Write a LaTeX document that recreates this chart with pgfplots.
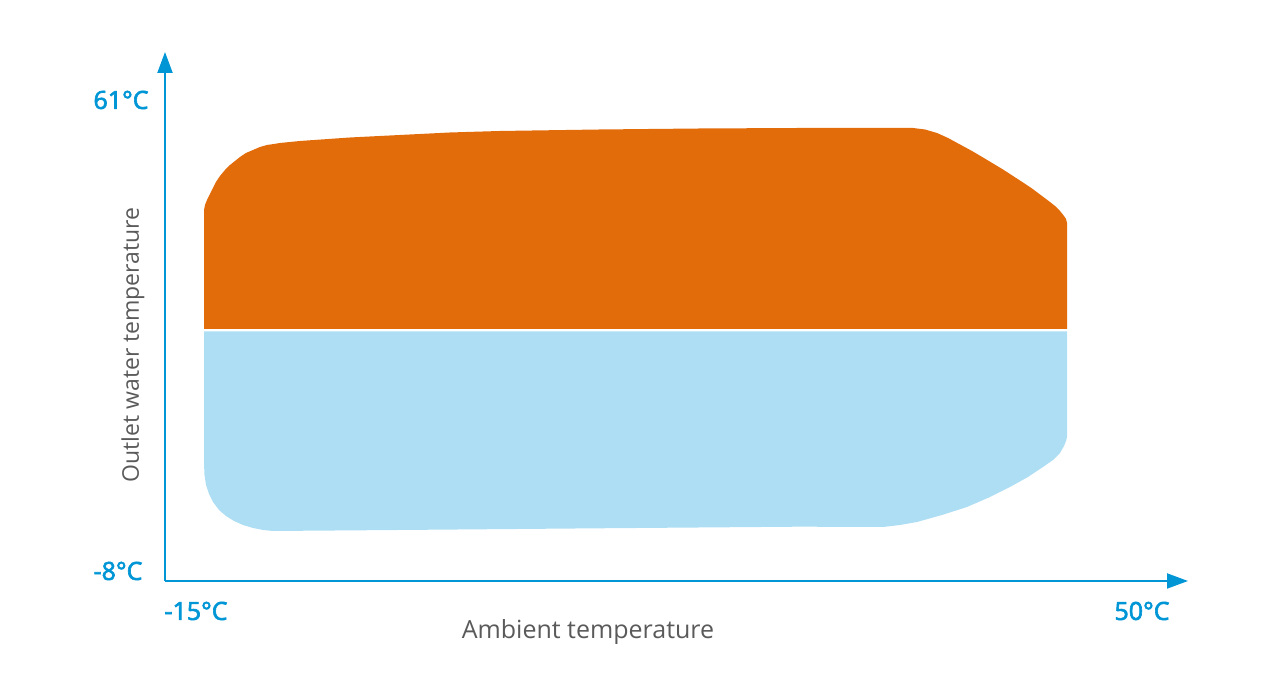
\documentclass[border=0pt]{standalone}
\usepackage{pgfplots}
\pgfplotsset{compat=1.18}
\usepackage{fontspec}
\setmainfont{Open Sans}
\newfontfamily\semib[FakeBold=2.5]{Open Sans}
\usetikzlibrary{arrows.meta}
\definecolor{heat}{HTML}{E26B0A}
\definecolor{cool}{HTML}{AEDEF4}
\definecolor{axblue}{HTML}{0096D6}
\definecolor{txtgray}{HTML}{5A5A5A}
\begin{document}
\begin{tikzpicture}
\useasboundingbox (0,0) rectangle (640pt,344pt);
\begin{axis}[
  at={(0,0)}, anchor=south west,
  width=640pt, height=344pt, scale only axis,
  xmin=0, xmax=1280, ymin=0, ymax=688,
  hide axis, clip=false,
]
% heating region
\addplot[fill=heat, draw=none] coordinates {
(204,359)(204,478)(205,483)(207,488)(210,494)(213,500)(216,506)(220,512)(225,518)(230,523)(235,527)(240,531)(246,535)(253,538)(260,541)(267,543)(274,544)(280,545)(290,546)(300,547)(350,550.5)(400,553)(450,555.5)(500,557)(600,558.5)(700,559.5)(800,560)(900,560)(913,560)(925,558.5)(937,555)(948,550)(960,543.5)(972,537)(983,530.5)(993,524.5)(1003,518.5)(1013,512)(1023,505.5)(1032,499.5)(1040,493.5)(1048,487.5)(1055,482)(1060,477)(1064,472)(1066,469)(1067,465)(1067,359)
} --cycle;
% cooling region
\addplot[fill=cool, draw=none] coordinates {
(204,356.5)(1067,356.5)(1067,251)(1066,247)(1064,242)(1060,235)(1053,228)(1043,221)(1028,211)(1010,201)(990,191)(967,181)(942,173)(917,166)(900,163)(883,161)(800,161.3)(600,159.7)(400,158)(273,157)(263,158)(253,160)(243,163)(234,167)(226,172)(219,178)(213,186)(209,194)(206,203)(204.5,213)(204,225)
} --cycle;
% axes
\addplot[axblue, line width=1pt, -{Triangle[length=10.5pt,width=7.5pt]}] coordinates {(165,107)(165,636)};
\addplot[axblue, line width=1pt, -{Triangle[length=10.5pt,width=7.5pt]}] coordinates {(165,107)(1188,107)};
% labels
\node[text=axblue, font=\fontsize{12.5}{14}\selectfont\semib] at (axis cs:121,588) {61°C};
\node[text=axblue, font=\fontsize{12.5}{14}\selectfont\semib] at (axis cs:118,117) {-8°C};
\node[text=axblue, font=\fontsize{12.5}{14}\selectfont\semib] at (axis cs:196,77) {-15°C};
\node[text=axblue, font=\fontsize{12.5}{14}\selectfont\semib] at (axis cs:1142,77) {50°C};
\node[text=txtgray, font=\fontsize{12.5}{14}\selectfont] at (axis cs:588,56) {Ambient temperature};
\node[text=txtgray, font=\fontsize{11.5}{14}\selectfont, rotate=90] at (axis cs:133,343) {Outlet water temperature};
\end{axis}
\end{tikzpicture}
\end{document}
